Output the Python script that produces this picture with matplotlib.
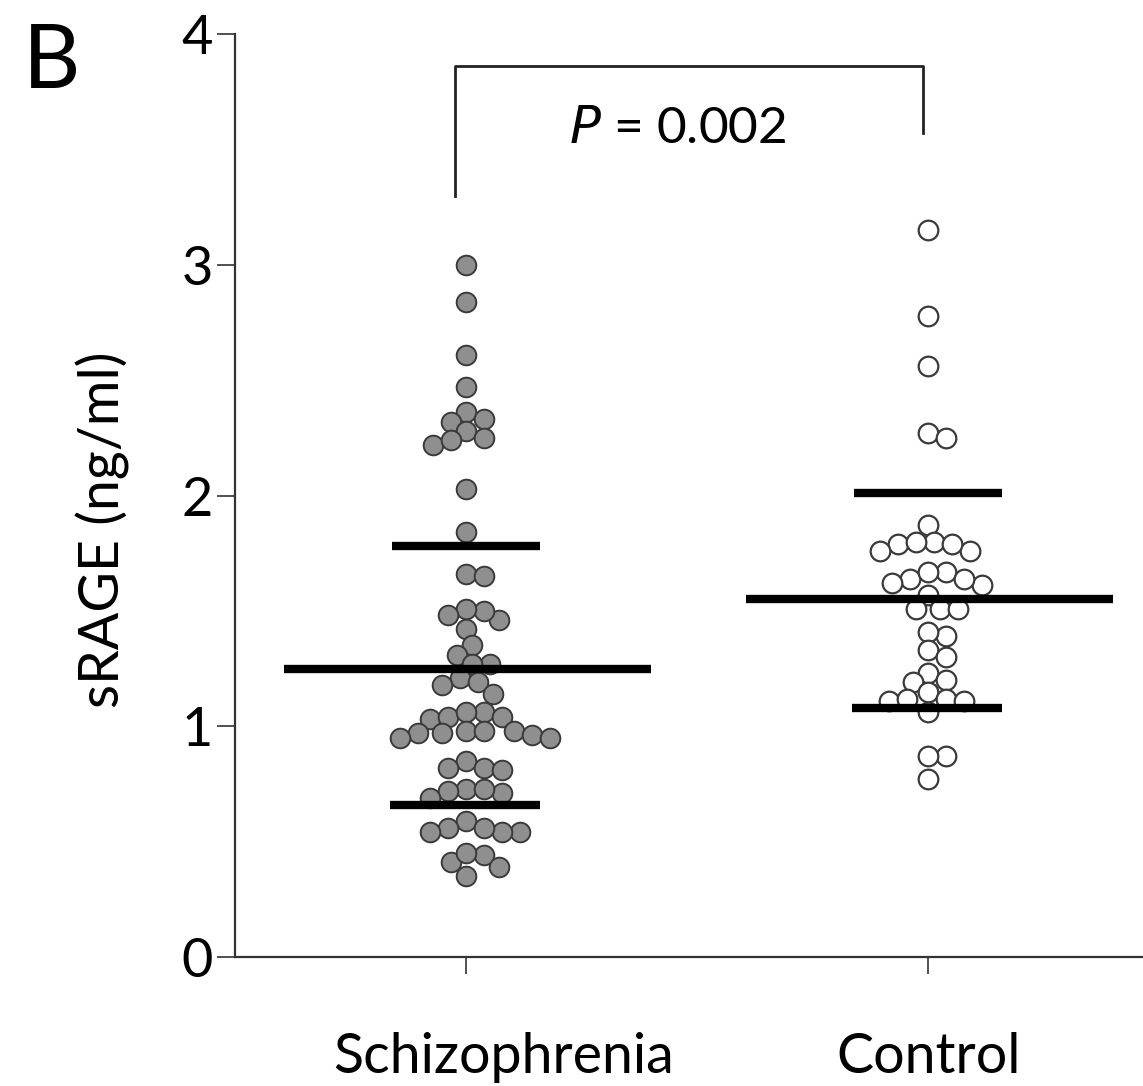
import numpy as np
import matplotlib.pyplot as plt
import matplotlib.transforms as mtransforms

# sRAGE values (ng/ml)
schizo = [3.00, 2.84, 2.61, 2.47, 2.36, 2.32, 2.33, 2.28, 2.25, 2.22, 2.24, 2.03, 1.84,
          1.66, 1.65, 1.46, 1.50, 1.51, 1.48, 1.42, 1.35, 1.31, 1.27, 1.27, 1.21, 1.18,
          1.19, 1.14, 1.06, 1.04, 1.03, 1.04, 1.06, 0.98, 0.97, 0.96, 0.95, 0.98, 0.95,
          0.97, 0.98, 0.85, 0.82, 0.81, 0.82, 0.73, 0.72, 0.69, 0.71, 0.73, 0.59, 0.56,
          0.54, 0.54, 0.54, 0.56, 0.41, 0.44, 0.45, 0.39, 0.35]
control = [3.15, 2.78, 2.56, 2.27, 2.25, 1.87, 1.76, 1.79, 1.80, 1.80, 1.79, 1.76, 1.67,
           1.64, 1.62, 1.61, 1.64, 1.67, 1.57, 1.51, 1.51, 1.51, 1.39, 1.41, 1.33, 1.30,
           1.23, 1.20, 1.19, 1.15, 1.12, 1.11, 1.11, 1.12, 1.06, 0.87, 0.87, 0.77]

groups = ['Schizophrenia', 'Control']
means = [1.25, 1.55]
upper = [1.78, 2.01]
lower = [0.66, 1.08]
p_text = '= 0.002'

W, H = 1143, 1086
fig = plt.figure(figsize=(W / 100, H / 100), dpi=100)
plt.rcParams['font.family'] = ['Lato', 'DejaVu Sans']

x_lo, x_hi = -0.5, 1.465
ax = fig.add_axes([235 / W, 1 - 957 / H, 1 - 235 / W, (957 - 34) / H])
ax.set_xlim(x_lo, x_hi)
ax.set_ylim(0, 4)

# pixels per data unit, used for the beeswarm layout
ppx = (1 - 235 / W) * W / (x_hi - x_lo)
ppy = (957 - 34) / 4.0


def swarm(vals, center, diam=17.0, step=3.0):
    placed = []
    xs = np.zeros(len(vals))
    order = np.argsort(vals)[::-1]
    for i in order:
        y = vals[i] * ppy
        k = 0
        while True:
            cands = [0.0] if k == 0 else [k * step, -k * step]
            done = False
            for x in cands:
                if all((x - px) ** 2 + (y - py) ** 2 >= diam ** 2 for px, py in placed):
                    placed.append((x, y))
                    xs[i] = x
                    done = True
                    break
            if done:
                break
            k += 1
    return center + xs / ppx


xs0 = swarm(schizo, 0)
xs1 = swarm(control, 1)

ax.scatter(xs0, schizo, s=200, facecolor='#8f8f8f', edgecolor='#3a3a3a', linewidth=1.4, zorder=3)
ax.scatter(xs1, control, s=200, facecolor='white', edgecolor='#3a3a3a', linewidth=1.6, zorder=3)

# mean and spread bars
for i in range(2):
    ax.hlines(means[i], i - 0.395, i + 0.40, color='black', lw=6, zorder=4)
    ax.hlines(upper[i], i - 0.16, i + 0.16, color='black', lw=6, zorder=4)
    ax.hlines(lower[i], i - 0.165, i + 0.16, color='black', lw=6, zorder=4)

# significance bracket
ax.plot([-0.024, -0.024, 0.989, 0.989], [3.30, 3.86, 3.86, 3.57], color='#222222', lw=2,
        clip_on=False, zorder=2)
ax.text(0.459, 3.59, r'$\it{P}$ ' + p_text, ha='center', va='center', fontsize=37)

for s in ['top', 'right']:
    ax.spines[s].set_visible(False)
for s in ['left', 'bottom']:
    ax.spines[s].set_linewidth(1.6)
    ax.spines[s].set_color('#333333')

ax.set_yticks([0, 1, 2, 3, 4])
ax.set_xticks([0, 1])
ax.set_xticklabels(groups)
ax.tick_params(axis='y', length=13, width=1.2, color='#333333', labelsize=39, pad=3)
ax.tick_params(axis='x', length=12, width=1.2, color='#333333', labelsize=40, pad=42)

# the first group label sits a bit right of its tick in the original
lab0 = ax.get_xticklabels()[0]
lab0.set_transform(lab0.get_transform() +
                   mtransforms.ScaledTranslation(0.38, 0, fig.dpi_scale_trans))

ax.set_ylabel('sRAGE (ng/ml)', fontsize=40)
ax.yaxis.set_label_coords(-0.1156, 0.463)

fig.text(23 / W, 1 - 88 / H, 'B', fontsize=64, ha='left', va='baseline')

plt.savefig('out.png', dpi=100)
